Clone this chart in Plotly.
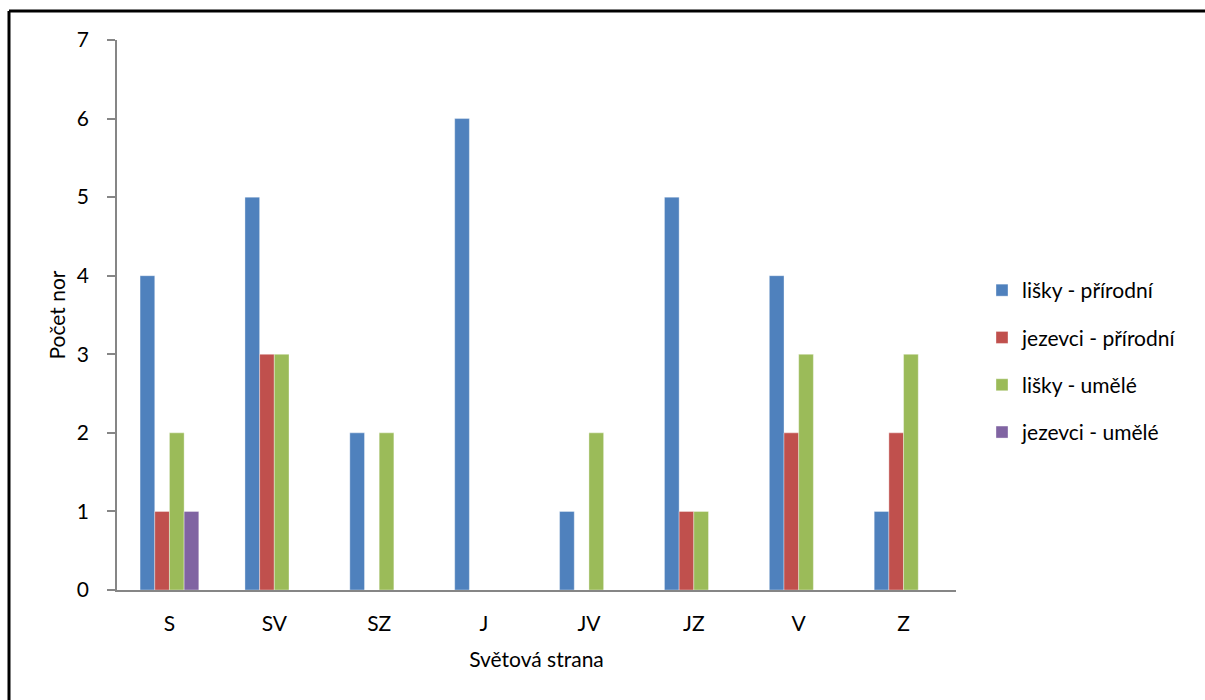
import plotly.graph_objects as go

categories = ["S", "SV", "SZ", "J", "JV", "JZ", "V", "Z"]
lisky_prirodni = [4, 5, 2, 6, 1, 5, 4, 1]
jezevci_prirodni = [1, 3, 0, 0, 0, 1, 2, 2]
lisky_umele = [2, 3, 2, 0, 2, 1, 3, 3]
jezevci_umele = [1, 0, 0, 0, 0, 0, 0, 0]

series = [
    ("lišky - přírodní", lisky_prirodni, "#4F81BD"),
    ("jezevci - přírodní", jezevci_prirodni, "#C0504D"),
    ("lišky - umělé", lisky_umele, "#9BBB59"),
    ("jezevci - umělé", jezevci_umele, "#8064A2"),
]

FONT = "Lato, 'Open Sans', sans-serif"
FS = 21

fig = go.Figure()
for i, (name, vals, col) in enumerate(series):
    fig.add_trace(go.Bar(
        x=categories, y=vals, name=name, legendgroup=f"g{i}",
        marker=dict(color=col, line=dict(color="rgba(255,255,255,0.6)", width=0.6)),
    ))

W, H = 1205, 700
L, R, T, B = 117, 249, 40, 110
pw, ph = W - L - R, H - T - B

fx0 = (9 - L) / pw
fx1 = (W + 20 - L) / pw
fy_top = (590 - 11) / ph
fy_bot = -(H + 20 - T - ph) / ph

fig.update_layout(
    width=W, height=H, autosize=False,
    margin=dict(l=L, r=R, t=T, b=B, pad=0),
    paper_bgcolor="white", plot_bgcolor="white",
    barmode="group", bargap=0.44, bargroupgap=0,
    font=dict(family=FONT, size=FS, color="#000000"),
    showlegend=True,
    legend=dict(
        x=(982 - L) / pw, xanchor="left",
        y=(590 - 270) / ph, yanchor="top",
        font=dict(family=FONT, size=FS, color="#000000"),
        tracegroupgap=17, itemwidth=30, bgcolor="rgba(0,0,0,0)",
    ),
    xaxis=dict(
        showline=True, linecolor="#868686", linewidth=1.5,
        ticks="", showgrid=False, zeroline=False,
        ticklabelstandoff=14,
        title=dict(text="Světová strana", standoff=18, font=dict(family=FONT, size=FS)),
    ),
    yaxis=dict(
        range=[0, 7], dtick=1, tick0=0,
        showline=True, linecolor="#868686", linewidth=1.5,
        ticks="outside", ticklen=8, tickcolor="#868686", tickwidth=1.5,
        showgrid=False, zeroline=False,
        ticklabelstandoff=14,
        title=dict(text="Počet nor", standoff=6, font=dict(family=FONT, size=FS)),
    ),
    shapes=[
        dict(type="line", xref="paper", yref="paper",
             x0=fx0, x1=fx1, y0=fy_top, y1=fy_top,
             line=dict(color="black", width=3), layer="above"),
        dict(type="line", xref="paper", yref="paper",
             x0=fx0, x1=fx0, y0=fy_bot, y1=fy_top,
             line=dict(color="black", width=3), layer="above"),
    ],
)

fig.write_html(
    "out.html",
    config={"displayModeBar": False},
    post_script="document.body.style.margin='0';document.body.style.overflow='hidden';",
)
